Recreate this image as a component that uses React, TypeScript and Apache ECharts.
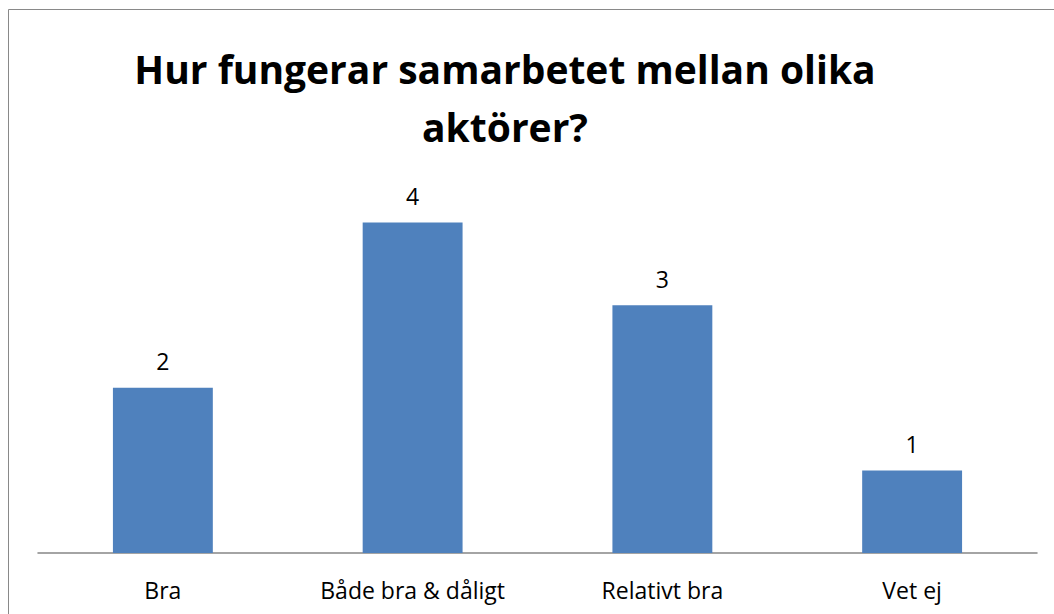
import React, { useEffect, useRef } from "react";
import * as echarts from "echarts";

const categories = ["Bra", "Både bra & dåligt", "Relativt bra", "Vet ej"];
const values = [2, 4, 3, 1];
const titleText = "Hur fungerar samarbetet mellan olika\naktörer?";

export default function App() {
  const ref = useRef<HTMLDivElement>(null);
  useEffect(() => {
    if (!ref.current) return;
    const chart = echarts.init(ref.current, undefined, { renderer: "svg" });
    chart.setOption({
      animation: false,
      backgroundColor: "#ffffff",
      title: {
        text: titleText,
        left: 492,
        top: 26,
        textAlign: "center",
        textStyle: {
          fontFamily: "Open Sans",
          fontWeight: "bold",
          fontSize: 39,
          lineHeight: 58,
          color: "#000000",
        },
      },
      graphic: [
        {
          type: "polyline",
          shape: { points: [[0.5, 700], [0.5, 1.5], [1100, 1.5]] },
          style: { stroke: "#898989", lineWidth: 1, fill: "none" },
          silent: true,
        },
      ],
      grid: { left: 30, right: 17, top: 132, bottom: 61, containLabel: false },
      xAxis: {
        type: "category",
        data: categories,
        axisLine: { show: true, lineStyle: { color: "#868686", width: 1.5 } },
        axisTick: { show: false },
        axisLabel: {
          fontFamily: "Open Sans",
          fontSize: 23,
          color: "#000000",
          margin: 25,
          interval: 0,
        },
      },
      yAxis: {
        type: "value",
        min: 0,
        max: 5,
        interval: 1,
        show: false,
        splitLine: { show: false },
      },
      series: [
        {
          type: "bar",
          data: values,
          barWidth: "40%",
          itemStyle: { color: "#4F81BD" },
          label: {
            show: true,
            position: "top",
            distance: 15,
            fontFamily: "Open Sans",
            fontSize: 23,
            color: "#000000",
          },
        },
      ],
    });
    return () => chart.dispose();
  }, []);
  return (
    <div
      ref={ref}
      style={{ position: "absolute", left: 8, top: 8, width: 1046, height: 606 }}
    />
  );
}
